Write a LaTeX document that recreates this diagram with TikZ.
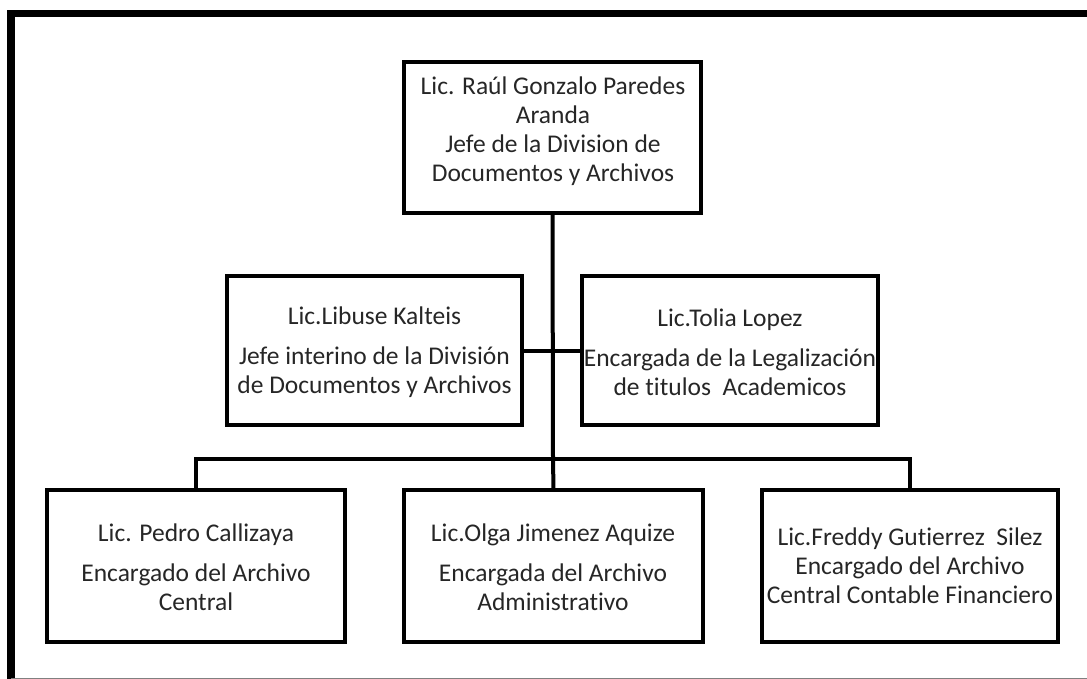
\documentclass[tikz,border=0pt]{standalone}
\usepackage{fontspec}
\setmainfont{Carlito}[Ligatures=CommonOff]
\begin{document}
\begin{tikzpicture}[x=1pt,y=-1pt,
  box/.style={draw=black, line width=4pt, minimum width=#1, inner sep=0pt, outer sep=0pt, rectangle},
  txt/.style={align=center, text=black!85, inner sep=0pt, font=\fontsize{25.5}{29}\selectfont},
  wire/.style={draw=black, line width=4pt}]
\useasboundingbox (0,0) rectangle (1087,679);
\draw[line width=7.5pt, line join=miter] (11,679) -- (11,13.5) -- (1087,13.5);
\draw[gray, line width=1pt] (11,678) -- (1087,678);

\node[box=297pt, minimum height=151pt] (top) at (552.5,137.5) {};
\node[box=295pt, minimum height=149pt] (ml) at (374.5,350.5) {};
\node[box=296pt, minimum height=149pt] (mr) at (730,350.5) {};
\node[box=298pt, minimum height=152pt] (bl) at (196,566) {};
\node[box=299pt, minimum height=152pt] (bm) at (553.5,566) {};
\node[box=296pt, minimum height=152pt] (br) at (910,566) {};

\node[txt] (ttop) at (553,131) {Lic. Raúl Gonzalo Paredes\\Aranda\\Jefe de la Division de\\Documentos y Archivos};
\node[txt] (tml) at (374.5,352) {Lic.Libuse Kalteis\\[11pt]Jefe interino de la División\\de Documentos y Archivos};
\node[txt] (tmr) at (730,352) {Lic.Tolia Lopez\\[11pt]Encargada de la Legalización\\de titulos\ \ Academicos};
\node[txt] (tbl) at (196,567) {Lic. Pedro Callizaya\\[11pt]Encargado del Archivo\\Central};
\node[txt] (tbm) at (553,567) {Lic.Olga Jimenez Aquize\\[11pt]Encargada del Archivo\\Administrativo};
\node[txt] (tbr) at (910,566) {Lic.Freddy Gutierrez\ \ Silez\\Encargado del Archivo\\Central Contable Financiero};

\coordinate (bus) at (553,459);
\coordinate (busl) at (196,459);
\coordinate (busr) at (910,459);
\draw[wire] (top.south) -- (bus);
\draw[wire] (ml.east) -- (mr.west);
\draw[wire, line cap=rect] (busl) -- (busr);
\draw[wire] (busl) -- (bl.north);
\draw[wire] (bus) -- (bm.north);
\draw[wire] (busr) -- (br.north);
\end{tikzpicture}
\end{document}
